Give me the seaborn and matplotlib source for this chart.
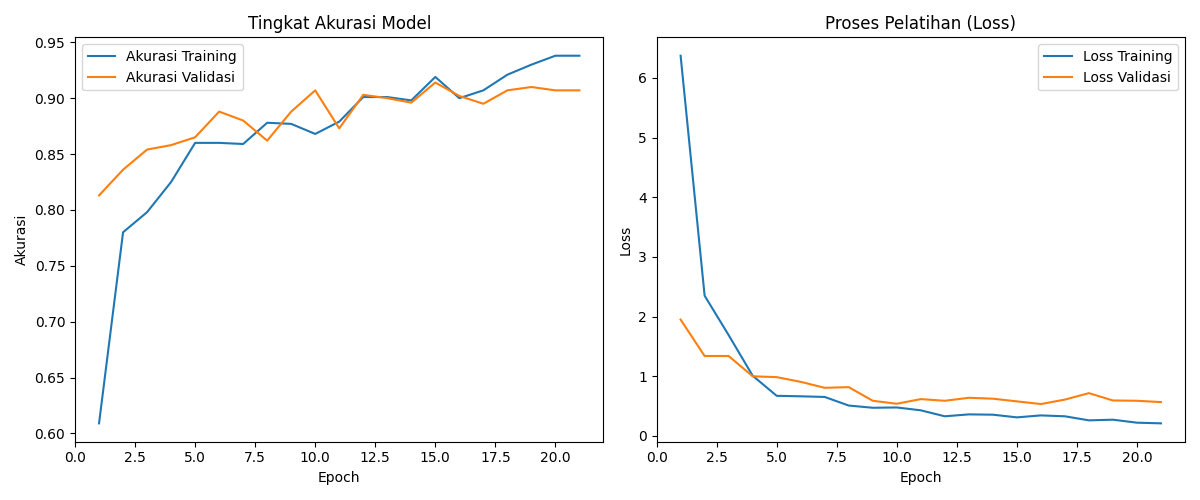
import matplotlib
matplotlib.use("Agg")
import matplotlib.pyplot as plt
import seaborn as sns

epochs = list(range(1, 22))

acc_train = [0.609, 0.780, 0.798, 0.825, 0.860, 0.860, 0.859, 0.878, 0.877, 0.868, 0.879,
             0.901, 0.901, 0.898, 0.919, 0.900, 0.907, 0.921, 0.930, 0.938, 0.938]
acc_val = [0.813, 0.836, 0.854, 0.858, 0.865, 0.888, 0.880, 0.862, 0.888, 0.907, 0.873,
           0.903, 0.900, 0.896, 0.914, 0.902, 0.895, 0.907, 0.910, 0.907, 0.907]

loss_train = [6.37, 2.35, 1.69, 1.01, 0.673, 0.665, 0.654, 0.51, 0.473, 0.478, 0.43,
              0.33, 0.362, 0.357, 0.312, 0.345, 0.33, 0.262, 0.273, 0.223, 0.212]
loss_val = [1.95, 1.34, 1.34, 1.00, 0.986, 0.907, 0.807, 0.818, 0.59, 0.54, 0.618,
            0.59, 0.64, 0.625, 0.58, 0.535, 0.61, 0.718, 0.595, 0.59, 0.568]

fig, (ax1, ax2) = plt.subplots(1, 2, figsize=(12, 5), dpi=100)

# accuracy
sns.lineplot(x=epochs, y=acc_train, ax=ax1, label="Akurasi Training", color="#1f77b4")
sns.lineplot(x=epochs, y=acc_val, ax=ax1, label="Akurasi Validasi", color="#ff7f0e")
ax1.set_title("Tingkat Akurasi Model")
ax1.set_xlabel("Epoch")
ax1.set_ylabel("Akurasi")
ax1.set_xlim(0, 22)
ax1.legend(loc="upper left")

# loss
sns.lineplot(x=epochs, y=loss_train, ax=ax2, label="Loss Training", color="#1f77b4")
sns.lineplot(x=epochs, y=loss_val, ax=ax2, label="Loss Validasi", color="#ff7f0e")
ax2.set_title("Proses Pelatihan (Loss)")
ax2.set_xlabel("Epoch")
ax2.set_ylabel("Loss")
ax2.set_xlim(0, 22)
ax2.legend(loc="upper right")

plt.tight_layout()
plt.savefig("out.png")
plt.close()
